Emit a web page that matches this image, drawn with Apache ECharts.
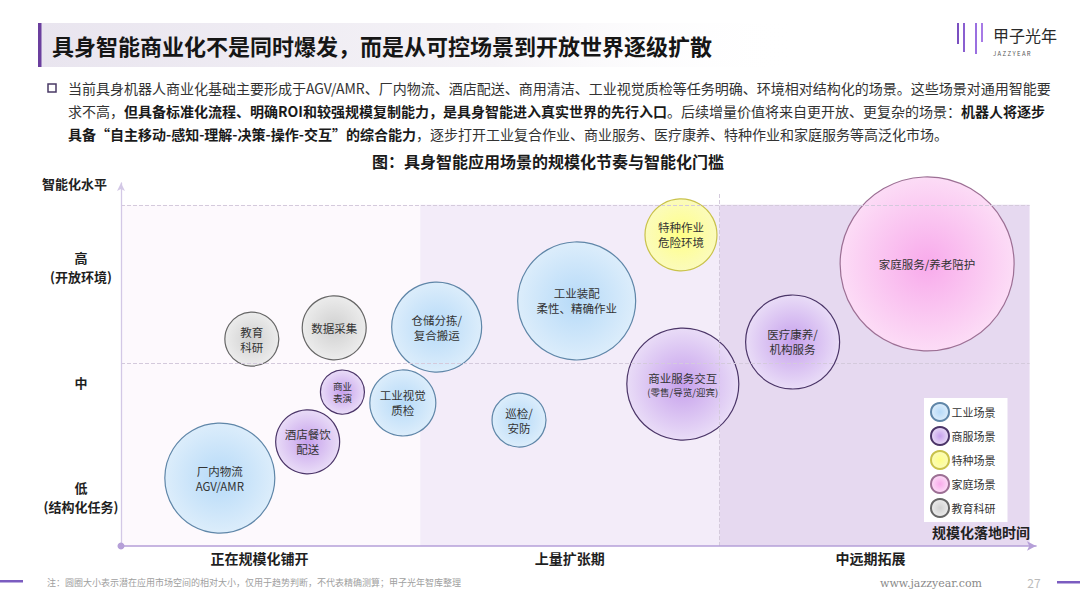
<!DOCTYPE html>
<html>
<head>
<meta charset="utf-8">
<script src="https://cdn.jsdelivr.net/npm/echarts@6/dist/echarts.min.js"></script>
<style>
html,body{margin:0;padding:0;background:#fff;}
#c{width:1080px;height:608px;}
</style>
</head>
<body>
<div id="c"></div>
<script>
// ---------------- data ----------------
const seriesNames = ['工业场景', '商服场景', '特种场景', '家庭场景', '教育科研'];

const industryLabels = ['厂内物流\nAGV/AMR', '工业视觉\n质检', '仓储分拣/\n复合搬运', '工业装配\n柔性、精确作业', '巡检/\n安防'];
const industryX = [10.8, 30.8, 34.5, 49.8, 43.5];
const industryY = [18.7, 39.4, 60.3, 67.5, 34.7];
const industrySize = [55, 33, 45, 59, 27];

const commerceLabels = ['酒店餐饮\n配送', '商业\n表演', '商业服务交互\n(零售/导览/迎宾)', '医疗康养/\n机构服务'];
const commerceX = [20.4, 24.2, 61.4, 73.4];
const commerceY = [28.7, 42.4, 44.6, 56.2];
const commerceSize = [32, 22, 56, 47];

const specialLabels = ['特种作业\n危险环境'];
const specialX = [61.2];
const specialY = [85.7];
const specialSize = [36];

const homeLabels = ['家庭服务/养老陪护'];
const homeX = [88.1];
const homeY = [77.7];
const homeSize = [87];

const eduLabels = ['教育\n科研', '数据采集'];
const eduX = [14.3, 23.3];
const eduY = [57.0, 60.1];
const eduSize = [27, 32];

const phaseNames = ['正在规模化铺开', '上量扩张期', '中远期拓展'];
const phaseBounds = [0, 32.7, 65.4, 99.3];
const levelLabels = ['低\n(结构化任务)', '中', '高\n(开放环境)'];
const levelLines = [50.4, 94];

// ---------------- styles ----------------
const FONT = '"Noto Sans CJK SC", "Noto Sans", sans-serif';
const palette = [
  {c0: '#b6daf8', c1: '#dcedfb', b: '#5f86a8'},
  {c0: '#c6a0ec', c1: '#e9dcf7', b: '#4b3568'},
  {c0: '#ffff86', c1: '#fbfbbc', b: '#c9c24a'},
  {c0: '#f8aaeb', c1: '#fcdcf6', b: '#9c6f94'},
  {c0: '#d0d0d0', c1: '#ececec', b: '#666666'}
];
const bandColors = ['#fdf9fd', '#f3ecf9', '#e6d9f0'];
const phaseLabelShift = [-11, 0, -4];

function radial(p) {
  return {type: 'radial', x: 0.5, y: 0.5, r: 0.5,
    colorStops: [{offset: 0, color: p.c0}, {offset: 1, color: p.c1}]};
}
function pts(labels, xs, ys, ss) {
  return labels.map((l, i) => ({name: l, value: [xs[i], ys[i], ss[i]]}));
}
const groups = [
  pts(industryLabels, industryX, industryY, industrySize),
  pts(commerceLabels, commerceX, commerceY, commerceSize),
  pts(specialLabels, specialX, specialY, specialSize),
  pts(homeLabels, homeX, homeY, homeSize),
  pts(eduLabels, eduX, eduY, eduSize)
];

const bubbleSeries = seriesNames.map((n, i) => ({
  name: n,
  type: 'scatter',
  xAxisIndex: 0, yAxisIndex: 0,
  z: 3,
  data: groups[i],
  symbolSize: v => v[2] * 2,
  itemStyle: {color: radial(palette[i]), borderColor: palette[i].b, borderWidth: 1.2, opacity: 1},
  label: {
    show: true, position: 'inside', color: '#333', fontFamily: FONT,
    fontSize: 11.5, lineHeight: 15,
    formatter: p => {
      const parts = p.name.split('\n');
      if (p.name.indexOf('零售') >= 0) return parts[0] + '\n{s|' + parts[1] + '}';
      if (p.name.indexOf('表演') >= 0) return '{s|' + parts.join('}\n{s|') + '}';
      return p.name;
    },
    rich: {s: {fontSize: 9.5, lineHeight: 12, color: '#333', fontFamily: FONT}}
  },
  emphasis: {disabled: true}
}));

const helperSeries = {
  type: 'scatter', name: 'bands', xAxisIndex: 0, yAxisIndex: 0, z: 1, data: [], silent: true,
  markArea: {
    silent: true,
    data: phaseNames.map((n, i) => [
      {name: n, xAxis: phaseBounds[i], yAxis: 0, itemStyle: {color: bandColors[i]},
        label: {offset: [phaseLabelShift[i], 0]}},
      {xAxis: phaseBounds[i + 1], yAxis: levelLines[1]}
    ]),
    label: {show: true, position: 'bottom', distance: 5, color: '#1f1f1f', fontSize: 14, fontWeight: 'bold', fontFamily: FONT}
  },
  markLine: {
    silent: true, symbol: 'none', animation: false,
    lineStyle: {type: 'dashed', color: '#d4cadc', width: 1},
    label: {show: false},
    data: levelLines.map(v => [{coord: [phaseBounds[0], v]}, {coord: [phaseBounds[3], v]}]).concat([
      [{coord: [phaseBounds[2], 0]}, {coord: [phaseBounds[2], 97.5]}]
    ])
  }
};

const chart = echarts.init(document.getElementById('c'), null, {renderer: 'svg'});
chart.setOption({
  animation: false,
  backgroundColor: '#fff',
  textStyle: {fontFamily: FONT},
  grid: [
    {left: 121, right: 44, top: 183, bottom: 62},
    {left: 121, right: 44, top: 209.5, bottom: 53.5}
  ],
  xAxis: [
    {type: 'value', gridIndex: 0, min: 0, max: 100, z: 5,
      axisLine: {show: true, symbol: ['circle', 'arrow'], symbolSize: [7, 9],
        lineStyle: {color: '#b59fd8', width: 1.6}},
      axisTick: {show: false}, axisLabel: {show: false}, splitLine: {show: false},
      name: '规模化落地时间', nameLocation: 'end', nameGap: -6,
      nameTextStyle: {align: 'right', verticalAlign: 'bottom', padding: [0, 0, 7, 0],
        fontSize: 14, fontWeight: 'bold', color: '#222', fontFamily: FONT}},
    {type: 'value', gridIndex: 1, show: false, min: 0, max: 1}
  ],
  yAxis: [
    {type: 'value', gridIndex: 0, min: 0, max: 100, z: 5,
      axisLine: {show: true, symbol: ['none', 'arrow'], symbolSize: [6, 8],
        lineStyle: {color: '#d3c8e6', width: 1.3}},
      axisTick: {show: false}, axisLabel: {show: false}, splitLine: {show: false},
      name: '智能化水平', nameLocation: 'end', nameGap: 0,
      nameTextStyle: {align: 'right', verticalAlign: 'middle', padding: [0, 14, 0, 0],
        fontSize: 13, fontWeight: 'bold', color: '#222', fontFamily: FONT}},
    {type: 'category', gridIndex: 1, data: levelLabels,
      axisLine: {show: false}, axisTick: {show: false}, splitLine: {show: false},
      axisLabel: {show: true, align: 'center', margin: 40, fontSize: 13, fontWeight: 'bold',
        lineHeight: 19, color: '#1f1f1f', fontFamily: FONT}}
  ],
  legend: {
    data: seriesNames, orient: 'vertical', left: 924, top: 398,
    itemWidth: 19, itemHeight: 18, itemGap: 4, icon: 'circle',
    backgroundColor: '#ffffff', padding: [4, 12, 4, 6],
    textStyle: {fontSize: 11, color: '#333', fontFamily: FONT, padding: [0, 0, 0, -3]},
    selectedMode: false
  },
  series: [helperSeries].concat(bubbleSeries),
  graphic: [
    // title bar
    {type: 'rect', shape: {x: 40, y: 23, width: 760, height: 44}, z: -1,
      style: {fill: {type: 'linear', x: 0, y: 0, x2: 1, y2: 0,
        colorStops: [{offset: 0, color: '#e9e5ef'}, {offset: 0.6, color: '#f5f3f7'}, {offset: 1, color: 'rgba(255,255,255,0)'}]}}},
    {type: 'rect', shape: {x: 38, y: 23, width: 3.5, height: 44}, style: {fill: '#6b3f9e'}},
    {type: 'text', x: 52, y: 45, style: {text: '具身智能商业化不是同时爆发，而是从可控场景到开放世界逐级扩散',
      fontSize: 22, fontWeight: 'bold', fill: '#161616', fontFamily: FONT, verticalAlign: 'middle'}},
    // logo
    {type: 'line', shape: {x1: 958, y1: 23, x2: 958, y2: 44}, style: {stroke: '#7a4fc0', lineWidth: 2}},
    {type: 'line', shape: {x1: 964, y1: 23, x2: 964, y2: 52}, style: {stroke: '#8a5fd0', lineWidth: 2}},
    {type: 'line', shape: {x1: 970, y1: 23, x2: 970, y2: 64}, style: {stroke: {type: 'linear', x: 0, y: 0, x2: 0, y2: 1, colorStops: [{offset: 0, color: '#8a5fd0'}, {offset: 1, color: 'rgba(138,95,208,0.15)'}]}, lineWidth: 2}},
    {type: 'line', shape: {x1: 976, y1: 23, x2: 976, y2: 54}, style: {stroke: '#9a6fe0', lineWidth: 2}},
    {type: 'line', shape: {x1: 982, y1: 23, x2: 982, y2: 42}, style: {stroke: '#a77ae6', lineWidth: 2}},
    {type: 'text', x: 993, y: 35, style: {text: '甲子光年', fontSize: 16, fill: '#2a2a2a', fontFamily: FONT, verticalAlign: 'middle'}},
    {type: 'text', x: 993, y: 53, style: {text: 'J A Z Z Y E A R', fontSize: 6, fill: '#555', fontFamily: FONT, verticalAlign: 'middle'}},
    // paragraph
    {type: 'rect', shape: {x: 48, y: 84, width: 8, height: 8}, style: {fill: 'none', stroke: '#4a3a66', lineWidth: 1.5}},
    {type: 'text', x: 68, y: 88, style: {
      text: '当前具身机器人商业化基础主要形成于AGV/AMR、厂内物流、酒店配送、商用清洁、工业视觉质检等任务明确、环境相对结构化的场景。这些场景对通用智能要',
      fontSize: 14, fill: '#333', fontFamily: FONT, verticalAlign: 'middle'}},
    {type: 'text', x: 68, y: 111, style: {
      text: '求不高，{b|但具备标准化流程、明确ROI和较强规模复制能力，是具身智能进入真实世界的先行入口}。后续增量价值将来自更开放、更复杂的场景：{b|机器人将逐步}',
      fontSize: 14, fill: '#333', fontFamily: FONT, verticalAlign: 'middle',
      rich: {b: {fontSize: 14, fontWeight: 'bold', fill: '#1a1a1a', fontFamily: FONT}}}},
    {type: 'text', x: 68, y: 134, style: {
      text: '{b|具备“自主移动-感知-理解-决策-操作-交互”的综合能力}，逐步打开工业复合作业、商业服务、医疗康养、特种作业和家庭服务等高泛化市场。',
      fontSize: 14, fill: '#333', fontFamily: FONT, verticalAlign: 'middle',
      rich: {b: {fontSize: 14, fontWeight: 'bold', fill: '#1a1a1a', fontFamily: FONT}}}},
    // chart title
    {type: 'text', x: 548, y: 161, style: {text: '图：具身智能应用场景的规模化节奏与智能化门槛',
      fontSize: 16, fontWeight: 'bold', fill: '#1a1a1a', fontFamily: FONT, align: 'center', verticalAlign: 'middle'}},
    // footer
    {type: 'rect', shape: {x: 0, y: 580, width: 23, height: 2.5}, style: {fill: '#7b5cc0'}},
    {type: 'text', x: 47, y: 582, style: {text: '注：圆圈大小表示潜在应用市场空间的相对大小，仅用于趋势判断，不代表精确测算；甲子光年智库整理',
      fontSize: 9, fill: '#a0a0a0', fontFamily: FONT, verticalAlign: 'middle'}},
    {type: 'text', x: 931, y: 583, style: {text: 'www.jazzyear.com', fontSize: 11, fill: '#8a8a8a', fontFamily: 'DejaVu Serif, serif', align: 'center', verticalAlign: 'middle'}},
    {type: 'text', x: 1034, y: 582, style: {text: '27', fontSize: 12, fill: '#bbbbbb', fontFamily: FONT, align: 'center', verticalAlign: 'middle'}},
    {type: 'rect', shape: {x: 1057, y: 581, width: 23, height: 2.5}, style: {fill: '#7b5cc0'}}
  ]
});
</script>
</body>
</html>
